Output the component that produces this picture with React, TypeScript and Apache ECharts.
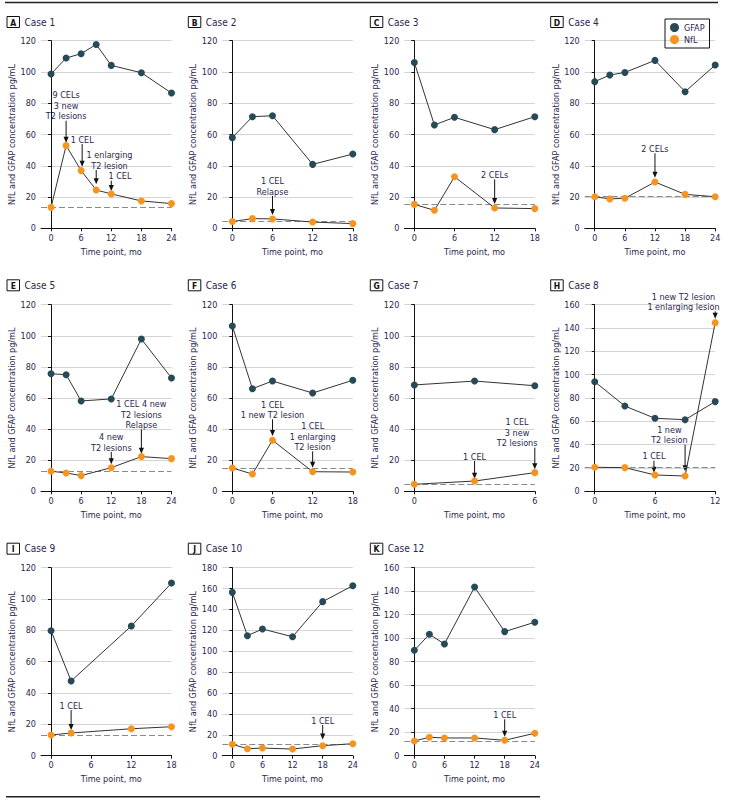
import React, { useEffect, useRef } from "react";
import * as echarts from "echarts";

// ---------------- DATA ----------------
const case1Times = [0, 3, 6, 9, 12, 18, 24];
const case1GFAP = [98.7, 108.9, 111.7, 117.6, 104.2, 99.5, 86.5];
const case1NfL = [13.4, 52.9, 36.9, 24.5, 22.0, 17.5, 15.8];
const case1Ref = 13.4;
const case1Notes = [
  { t: 3, from: 68.8, to: 54.8, text: "9 CELs\n3 new\nT2 lesions" },
  { t: 6.2, from: 53.9, to: 39.4, text: "1 CEL" },
  { t: 9, from: 37.3, to: 28.1, text: "1 enlarging\nT2 lesion" },
  { t: 12, from: 30.5, to: 23.9, text: "1 CEL" },
];

const case2Times = [0, 3, 6, 12, 18];
const case2GFAP = [58.0, 71.4, 72.0, 40.9, 47.5];
const case2NfL = [4.3, 6.2, 6.0, 4.0, 3.0];
const case2Ref = 4.4;
const case2Notes = [{ t: 6, from: 20.7, to: 8.5, text: "1 CEL\nRelapse" }];

const case3Times = [0, 3, 6, 12, 18];
const case3GFAP = [106.1, 66.1, 71.0, 63.1, 71.4];
const case3NfL = [15.3, 11.5, 33.0, 13.0, 12.6];
const case3Ref = 15.3;
const case3Notes = [{ t: 12, from: 31.3, to: 15.6, text: "2 CELs" }];

const case4Times = [0, 3, 6, 12, 18, 24];
const case4GFAP = [93.8, 98.0, 99.7, 107.4, 87.4, 104.4];
const case4NfL = [20.2, 18.8, 19.2, 29.6, 21.7, 20.2];
const case4Ref = 20.2;
const case4Notes = [{ t: 12, from: 48, to: 32.4, text: "2 CELs" }];

const case5Times = [0, 3, 6, 12, 18, 24];
const case5GFAP = [75.6, 75.0, 58.1, 59.4, 97.9, 72.9];
const case5NfL = [12.9, 11.8, 10.1, 15.2, 22.3, 21.0];
const case5Ref = 12.9;
const case5Notes = [
  { t: 12, from: 25.3, to: 17.4, text: "4 new\nT2 lesions" },
  { t: 18, from: 39.9, to: 24.2, text: "1 CEL 4 new\nT2 lesions\nRelapse" },
];

const case6Times = [0, 3, 6, 12, 18];
const case6GFAP = [106.3, 66.0, 70.9, 63.2, 71.4];
const case6NfL = [15.0, 11.1, 32.8, 12.6, 12.4];
const case6Ref = 14.8;
const case6Notes = [
  { t: 6, from: 46.3, to: 35.6, text: "1 CEL\n1 new T2 lesion" },
  { t: 12, from: 25.7, to: 15.2, text: "1 CEL\n1 enlarging\nT2 lesion" },
];

const case7Times = [0, 3, 6];
const case7GFAP = [68.4, 70.9, 67.9];
const case7NfL = [4.5, 6.6, 12.0];
const case7Ref = 4.5;
const case7Notes = [
  { t: 3, from: 19.5, to: 8.1, text: "1 CEL" },
  { t: 6, from: 28.1, to: 14.1, text: "1 CEL\n3 new\nT2 lesions" },
];

const case8Times = [0, 3, 6, 9, 12];
const case8GFAP = [94.0, 73.1, 62.6, 61.4, 76.9];
const case8NfL = [20.6, 20.3, 14.0, 13.1, 144.6];
const case8Ref = 20.5;
const case8Notes = [
  { t: 5.9, from: 26.3, to: 16, text: "1 CEL" },
  { t: 9, from: 40, to: 17.1, text: "1 new\nT2 lesion" },
  { t: 12, from: 154.3, to: 148, text: "1 new T2 lesion\n1 enlarging lesion" },
];

const case9Times = [0, 3, 12, 18];
const case9GFAP = [79.8, 47.7, 82.8, 110.2];
const case9NfL = [13.2, 14.5, 17.2, 18.5];
const case9Ref = 13.1;
const case9Notes = [{ t: 3, from: 29.1, to: 16.4, text: "1 CEL" }];

const case10Times = [0, 3, 6, 12, 18, 24];
const case10GFAP = [156.4, 114.9, 121.3, 113.9, 147.5, 162.8];
const case10NfL = [10.9, 6.7, 7.3, 6.4, 9.6, 11.5];
const case10Ref = 10.9;
const case10Notes = [{ t: 18, from: 29.4, to: 15.6, text: "1 CEL" }];

const case12Times = [0, 3, 6, 12, 18, 24];
const case12GFAP = [89.7, 103.3, 95.1, 143.5, 105.6, 113.6];
const case12NfL = [12.5, 15.7, 15.1, 15.1, 13.1, 19.1];
const case12Ref = 12.5;
const case12Notes = [{ t: 18, from: 31, to: 16.2, text: "1 CEL" }];

const panelLetters = ["A", "B", "C", "D", "E", "F", "G", "H", "I", "J", "K"];
const panelTitles = ["Case 1", "Case 2", "Case 3", "Case 4", "Case 5", "Case 6", "Case 7", "Case 8", "Case 9", "Case 10", "Case 12"];
const xMaxes = [24, 18, 18, 24, 24, 18, 6, 12, 18, 24, 24];
const yMaxes = [120, 120, 120, 120, 120, 120, 120, 160, 120, 180, 160];
const xTickStep = 6;
const yTickStep = 20;
const xAxisTitle = "Time point, mo";
const yAxisTitle = "NfL and GFAP concentration pg/mL";

const panelTimes = [case1Times, case2Times, case3Times, case4Times, case5Times, case6Times, case7Times, case8Times, case9Times, case10Times, case12Times];
const panelGFAP = [case1GFAP, case2GFAP, case3GFAP, case4GFAP, case5GFAP, case6GFAP, case7GFAP, case8GFAP, case9GFAP, case10GFAP, case12GFAP];
const panelNfL = [case1NfL, case2NfL, case3NfL, case4NfL, case5NfL, case6NfL, case7NfL, case8NfL, case9NfL, case10NfL, case12NfL];
const panelRef = [case1Ref, case2Ref, case3Ref, case4Ref, case5Ref, case6Ref, case7Ref, case8Ref, case9Ref, case10Ref, case12Ref];
const panelNotes = [case1Notes, case2Notes, case3Notes, case4Notes, case5Notes, case6Notes, case7Notes, case8Notes, case9Notes, case10Notes, case12Notes];

// ---------------- LAYOUT / STYLE ----------------
const FONT = "'Liberation Sans Narrow','DejaVu Sans Condensed','Roboto Condensed','Liberation Sans',sans-serif";
const TEXT = "#2a2650";
const GFAP_COLOR = "#274a58";
const NFL_COLOR = "#f7941d";
const FS = 9;
const colLefts = [41, 222.3, 404.3, 584.7];
const rowTops = [40.7, 304.7, 567.7];
const rowHeights = [187.6, 186.6, 188];
const plotWidth = 130.5;
const titleCY = [22, 285.3, 548.7];
const noteDx: Record<number, number[]> = { 0: [0, 0, 13.3, 8.7], 6: [0, -17.7], 7: [0, -15.7, -31.7] };

function range(step: number, max: number) {
  const out: number[] = [];
  for (let v = 0; v <= max + 1e-9; v += step) out.push(v);
  return out;
}

export default function App() {
  const ref = useRef<HTMLDivElement>(null);
  useEffect(() => {
    if (!ref.current) return;
    const chart = echarts.init(ref.current, undefined, { renderer: "svg" });
    const grids: any[] = [];
    const xAxes: any[] = [];
    const yAxes: any[] = [];
    const series: any[] = [];
    panelLetters.forEach((_, i) => {
      const col = i % 4;
      const row = Math.floor(i / 4);
      grids.push({ left: colLefts[col], top: rowTops[row], width: plotWidth, height: rowHeights[row], containLabel: false });
      const ticks = range(xTickStep, xMaxes[i]);
      xAxes.push({
        type: "value",
        gridIndex: i,
        min: -xMaxes[i] / 12,
        max: xMaxes[i],
        name: xAxisTitle,
        nameLocation: "middle",
        nameGap: 19,
        nameTextStyle: { fontFamily: FONT, fontSize: FS, color: TEXT, padding: [0, 0, 0, 10] },
        axisLine: { show: true, lineStyle: { color: "#111", width: 1 } },
        axisTick: { show: true, length: 3, customValues: ticks, lineStyle: { color: "#111" } },
        axisLabel: { customValues: ticks, fontFamily: FONT, fontSize: FS, color: TEXT, margin: 5 },
        splitLine: { show: false },
      });
      yAxes.push({
        type: "value",
        gridIndex: i,
        min: 0,
        max: yMaxes[i],
        interval: yTickStep,
        name: yAxisTitle,
        nameLocation: "middle",
        nameGap: 24,
        nameTextStyle: { fontFamily: FONT, fontSize: FS, color: TEXT },
        axisLine: { show: true, lineStyle: { color: "#111", width: 1 } },
        axisTick: { show: true, length: 3, lineStyle: { color: "#111" } },
        axisLabel: { fontFamily: FONT, fontSize: FS, color: TEXT, margin: 5 },
        splitLine: { show: true, lineStyle: { color: "#d4d4d4", width: 1 } },
      });
      const t = panelTimes[i];
      series.push({
        name: "GFAP",
        type: "line",
        xAxisIndex: i,
        yAxisIndex: i,
        data: t.map((x, k) => [x, panelGFAP[i][k]]),
        symbol: "circle",
        symbolSize: 7,
        itemStyle: { color: GFAP_COLOR },
        lineStyle: { color: "#333", width: 1 },
        z: 3,
      });
      series.push({
        name: "NfL",
        type: "line",
        xAxisIndex: i,
        yAxisIndex: i,
        data: t.map((x, k) => [x, panelNfL[i][k]]),
        symbol: "circle",
        symbolSize: 7,
        itemStyle: { color: NFL_COLOR },
        lineStyle: { color: "#333", width: 1 },
        z: 3,
        markLine: {
          silent: true,
          symbol: "none",
          label: { show: false },
          lineStyle: { type: [6, 3], color: "#8a8a8a", width: 1 },
          data: [{ yAxis: panelRef[i] }],
          z: 2,
        },
      });
    });

    chart.setOption({
      animation: false,
      backgroundColor: "#fff",
      grid: grids,
      xAxis: xAxes,
      yAxis: yAxes,
      series,
      legend: {
        data: [
          { name: "GFAP", icon: "circle" },
          { name: "NfL", icon: "circle" },
        ],
        orient: "vertical",
        left: 665,
        top: 19,
        itemWidth: 9,
        itemHeight: 9,
        itemGap: 3,
        padding: [4, 5, 4, 5],
        borderColor: "#111",
        borderWidth: 1,
        selectedMode: false,
        textStyle: { fontFamily: FONT, fontSize: FS, color: TEXT },
      },
    });

    const g: any[] = [];
    g.push({ type: "line", shape: { x1: 5, y1: 2.5, x2: 718, y2: 2.5 }, style: { stroke: "#222", lineWidth: 1.5 } });
    g.push({ type: "line", shape: { x1: 6, y1: 796.7, x2: 540, y2: 796.7 }, style: { stroke: "#222", lineWidth: 1.5 } });
    panelLetters.forEach((letter, i) => {
      const col = i % 4;
      const row = Math.floor(i / 4);
      const left = colLefts[col];
      g.push({
        type: "rect",
        shape: { x: left - 34, y: titleCY[row] - 5.5, width: 12.5, height: 11 },
        style: { fill: "#fff", stroke: "#111", lineWidth: 1 },
      });
      g.push({
        type: "text",
        x: left - 34 + 6.25,
        y: titleCY[row] + 0.5,
        style: { text: letter, fontFamily: FONT, fontSize: 8.5, fontWeight: "bold", fill: "#111", align: "center", verticalAlign: "middle" },
      });
      g.push({
        type: "text",
        x: left - 16.5,
        y: titleCY[row],
        style: { text: panelTitles[i], fontFamily: FONT, fontSize: 10, fill: TEXT, align: "left", verticalAlign: "middle" },
      });
      panelNotes[i].forEach((n, k) => {
        const p0 = chart.convertToPixel({ gridIndex: i }, [n.t, n.from]) as number[];
        const p1 = chart.convertToPixel({ gridIndex: i }, [n.t, n.to]) as number[];
        const x = p0[0];
        const dx = (noteDx[i] && noteDx[i][k]) || 0;
        g.push({ type: "line", shape: { x1: x, y1: p0[1], x2: x, y2: p1[1] - 4 }, style: { stroke: "#111", lineWidth: 1 } });
        g.push({
          type: "polygon",
          shape: { points: [[x - 2.6, p1[1] - 6], [x + 2.6, p1[1] - 6], [x, p1[1]]] },
          style: { fill: "#111" },
        });
        g.push({
          type: "text",
          x: x + dx,
          y: p0[1] + 1,
          style: { text: n.text, fontFamily: FONT, fontSize: FS, lineHeight: 10.5, fill: TEXT, align: "center", verticalAlign: "bottom" },
        });
      });
    });
    chart.setOption({ graphic: g });
    return () => chart.dispose();
  }, []);
  return <div ref={ref} style={{ position: "fixed", left: 0, top: 0, width: 730, height: 802 }} />;
}
